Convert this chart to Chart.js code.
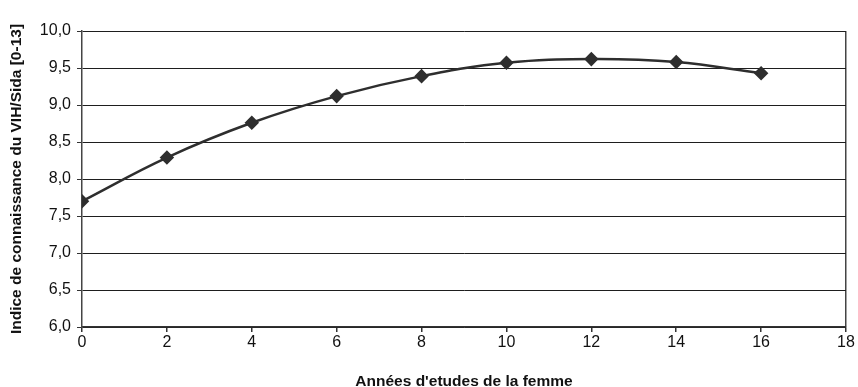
<!DOCTYPE html>
<html>
<head>
<meta charset="utf-8">
<script src="https://cdn.jsdelivr.net/npm/chart.js@4/dist/chart.umd.min.js"></script>
<style>
  html, body { margin: 0; padding: 0; background: #fff; }
  #wrap { width: 858px; height: 387px; }
</style>
</head>
<body>
<div id="wrap"><canvas id="chart" width="858" height="387"></canvas></div>
<script>
const years = [0, 2, 4, 6, 8, 10, 12, 14, 16];
const indexValues = [7.70, 8.29, 8.76, 9.12, 9.39, 9.57, 9.62, 9.58, 9.43];
const xTitle = "Années d'etudes de la femme";
const yTitle = 'Indice de connaissance du VIH/Sida [0-13]';

const points = years.map((x, i) => ({ x: x, y: indexValues[i] }));
const fontFamily = 'Liberation Sans, Arial, sans-serif';

const ctx = document.getElementById('chart').getContext('2d');
const chart = new Chart(ctx, {
  type: 'line',
  data: {
    datasets: [{
      label: 'Indice',
      data: points,
      borderColor: '#2e2e2e',
      backgroundColor: '#2e2e2e',
      borderWidth: 2.5,
      pointStyle: 'rectRot',
      pointRadius: 5.5,
      pointHoverRadius: 5.5,
      tension: 0.4,
      fill: false
    }]
  },
  options: {
    responsive: false,
    animation: false,
    layout: { padding: { top: 31, right: 12, left: 0, bottom: 0 } },
    plugins: {
      legend: { display: false },
      tooltip: { enabled: false }
    },
    scales: {
      x: {
        type: 'linear',
        min: 0,
        max: 18,
        afterFit: function (scale) { scale.height = 60; },
        border: { color: '#333', width: 1.5 },
        grid: {
          drawOnChartArea: true,
          color: c => c.tick && c.tick.value === 18 ? '#444' : 'rgba(0,0,0,0)',
          tickColor: '#333',
          tickLength: 5,
          lineWidth: 1.5
        },
        ticks: {
          stepSize: 2,
          color: '#111',
          padding: 1,
          font: { family: fontFamily, size: 16 },
          maxRotation: 0
        },
        title: {
          display: true,
          text: xTitle,
          color: '#111',
          padding: { top: 4, bottom: -4 },
          font: { family: fontFamily, size: 15.5, weight: 'bold' }
        }
      },
      y: {
        min: 6,
        max: 10,
        afterFit: function (scale) { scale.width = 82; },
        border: { color: '#444', width: 1.5 },
        grid: {
          color: '#1e1e1e',
          tickColor: '#333',
          tickLength: 5,
          lineWidth: 1
        },
        ticks: {
          stepSize: 0.5,
          color: '#111',
          padding: 6,
          font: { family: fontFamily, size: 16 },
          callback: v => v.toFixed(1).replace('.', ',')
        },
        title: {
          display: true,
          text: yTitle,
          color: '#111',
          padding: { top: 7, bottom: 4 },
          font: { family: fontFamily, size: 15.5, weight: 'bold' }
        }
      }
    }
  }
});
</script>
</body>
</html>
